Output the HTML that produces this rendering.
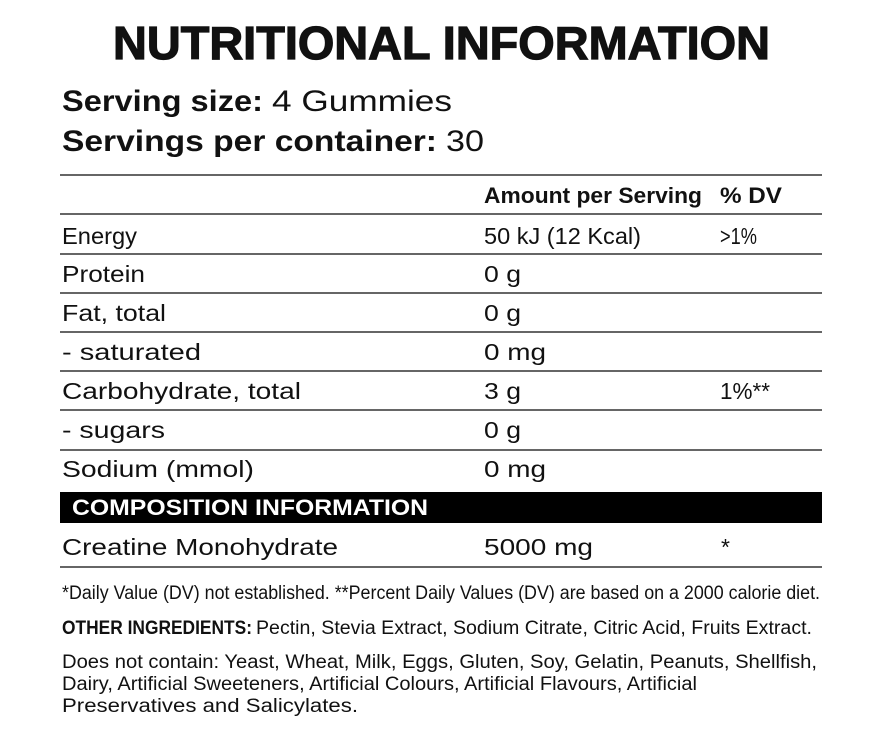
<!DOCTYPE html>
<html><head><meta charset="utf-8"><style>html,body{margin:0;padding:0;background:#fff}svg{display:block}text{font-family:"Liberation Sans",sans-serif;fill:#111}</style></head><body>
<svg width="883" height="738" viewBox="0 0 883 738" xmlns="http://www.w3.org/2000/svg">
<text x="113" y="59" font-size="46" font-weight="bold" stroke="#111" stroke-width="1.2" textLength="657" lengthAdjust="spacingAndGlyphs">NUTRITIONAL INFORMATION</text>
<text x="62" y="111" font-size="30" font-weight="bold" textLength="201" lengthAdjust="spacingAndGlyphs">Serving size:</text>
<text x="272" y="111" font-size="30" textLength="180" lengthAdjust="spacingAndGlyphs">4 Gummies</text>
<text x="62" y="151" font-size="30" font-weight="bold" textLength="375" lengthAdjust="spacingAndGlyphs">Servings per container:</text>
<text x="446" y="151" font-size="30" textLength="38" lengthAdjust="spacingAndGlyphs">30</text>
<g stroke="#333" stroke-width="1.6">
<line x1="60" y1="175" x2="822" y2="175"/><line x1="60" y1="214" x2="822" y2="214"/><line x1="60" y1="254" x2="822" y2="254"/><line x1="60" y1="293" x2="822" y2="293"/><line x1="60" y1="332" x2="822" y2="332"/><line x1="60" y1="371" x2="822" y2="371"/><line x1="60" y1="410" x2="822" y2="410"/><line x1="60" y1="450" x2="822" y2="450"/><line x1="60" y1="567" x2="822" y2="567"/>
</g>
<rect x="60" y="492" width="762" height="31" fill="#000"/>
<text x="72" y="515" font-size="22" font-weight="bold" style="fill:#fff" textLength="356" lengthAdjust="spacingAndGlyphs">COMPOSITION INFORMATION</text>
<text x="484" y="203" font-size="22" font-weight="bold" textLength="218" lengthAdjust="spacingAndGlyphs">Amount per Serving</text>
<text x="720" y="203" font-size="22" font-weight="bold" textLength="62" lengthAdjust="spacingAndGlyphs">% DV</text>
<g font-size="23">
<text x="62" y="244" textLength="75" lengthAdjust="spacingAndGlyphs">Energy</text>
<text x="484" y="244" textLength="157" lengthAdjust="spacingAndGlyphs">50 kJ (12 Kcal)</text>
<text x="720" y="244" textLength="37" lengthAdjust="spacingAndGlyphs">&gt;1%</text>
<text x="62" y="282" textLength="83" lengthAdjust="spacingAndGlyphs">Protein</text>
<text x="484" y="282" textLength="37" lengthAdjust="spacingAndGlyphs">0 g</text>
<text x="62" y="321" textLength="104" lengthAdjust="spacingAndGlyphs">Fat, total</text>
<text x="484" y="321" textLength="37" lengthAdjust="spacingAndGlyphs">0 g</text>
<text x="62" y="360" textLength="139" lengthAdjust="spacingAndGlyphs">- saturated</text>
<text x="484" y="360" textLength="62" lengthAdjust="spacingAndGlyphs">0 mg</text>
<text x="62" y="399" textLength="239" lengthAdjust="spacingAndGlyphs">Carbohydrate, total</text>
<text x="484" y="399" textLength="37" lengthAdjust="spacingAndGlyphs">3 g</text>
<text x="720" y="399" textLength="50" lengthAdjust="spacingAndGlyphs">1%**</text>
<text x="62" y="438" textLength="103" lengthAdjust="spacingAndGlyphs">- sugars</text>
<text x="484" y="438" textLength="37" lengthAdjust="spacingAndGlyphs">0 g</text>
<text x="62" y="477" textLength="192" lengthAdjust="spacingAndGlyphs">Sodium (mmol)</text>
<text x="484" y="477" textLength="62" lengthAdjust="spacingAndGlyphs">0 mg</text>
<text x="62" y="555" textLength="276" lengthAdjust="spacingAndGlyphs">Creatine Monohydrate</text>
<text x="484" y="555" textLength="109" lengthAdjust="spacingAndGlyphs">5000 mg</text>
<text x="721" y="555">*</text>
</g>
<g font-size="19">
<text x="62" y="599" textLength="758" lengthAdjust="spacingAndGlyphs">*Daily Value (DV) not established. **Percent Daily Values (DV) are based on a 2000 calorie diet.</text>
<text x="62" y="634" font-weight="bold" textLength="190" lengthAdjust="spacingAndGlyphs">OTHER INGREDIENTS:</text>
<text x="256" y="634" textLength="556" lengthAdjust="spacingAndGlyphs">Pectin, Stevia Extract, Sodium Citrate, Citric Acid, Fruits Extract.</text>
<text x="62" y="668" textLength="755" lengthAdjust="spacingAndGlyphs">Does not contain: Yeast, Wheat, Milk, Eggs, Gluten, Soy, Gelatin, Peanuts, Shellfish,</text>
<text x="62" y="690" textLength="635" lengthAdjust="spacingAndGlyphs">Dairy, Artificial Sweeteners, Artificial Colours, Artificial Flavours, Artificial</text>
<text x="62" y="712" textLength="296" lengthAdjust="spacingAndGlyphs">Preservatives and Salicylates.</text>
</g>
</svg>
</body></html>
